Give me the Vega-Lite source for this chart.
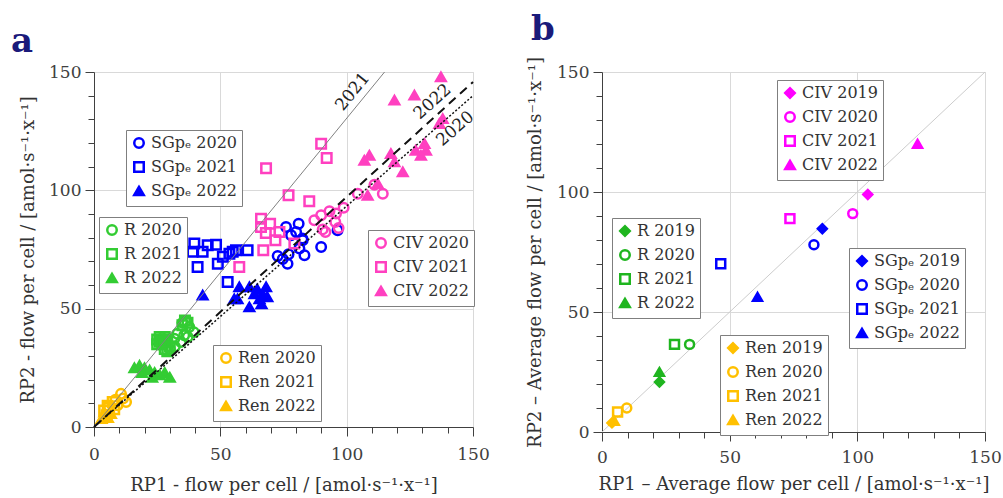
{
  "$schema": "https://vega.github.io/schema/vega-lite/v6.json",
  "padding": {"left": 10, "top": 12, "right": 5, "bottom": 0},
  "spacing": 36,
  "config": {
    "font": "DejaVu Serif",
    "view": {"stroke": "#d9d9d9"},
    "axis": {"domainColor": "#404040", "tickColor": "#404040", "labelFont": "DejaVu Serif", "labelFontSize": 17, "labelColor": "#404040", "titleFont": "DejaVu Serif", "titleFontSize": 18, "titleFontWeight": "normal", "titleColor": "#333333", "gridColor": "#d9d9d9", "labelOverlap": false, "labelFlush": false, "labelBound": false},
    "legend": {"title": null, "orient": "none", "fillColor": "white", "strokeColor": "#7f7f7f", "padding": 5, "labelFont": "DejaVu Serif", "labelFontSize": 16, "labelColor": "#333333", "symbolSize": 90, "symbolStrokeWidth": 2.5, "rowPadding": 4},
    "title": {"font": "DejaVu Serif", "fontSize": 34, "fontWeight": "bold", "color": "#1a1a7a", "anchor": "start", "frame": "group"}
  },
  "hconcat": [
    {
      "width": 379,
      "height": 355,
      "title": {"text": "a", "dx": -83, "offset": 4},
      "encoding": {
        "x": {"field": "x", "type": "quantitative", "scale": {"domain": [0, 150], "nice": false},
          "axis": {"title": "RP1 - flow per cell / [amol·s⁻¹·x⁻¹]", "values": [0,10,20,30,40,50,60,70,80,90,100,110,120,130,140,150],
            "labelExpr": "datum.value % 50 === 0 ? datum.label : ''", "labelPadding": 10, "titlePadding": 14,
            "tickSize": {"condition": {"test": "datum.value % 50 === 0", "value": 9}, "value": 6},
            "gridOpacity": {"condition": {"test": "datum.value % 50 === 0 && datum.value > 0", "value": 1}, "value": 0}}},
        "y": {"field": "y", "type": "quantitative", "scale": {"domain": [0, 150], "nice": false},
          "axis": {"title": "RP2 - flow per cell / [amol·s⁻¹·x⁻¹]", "values": [0,10,20,30,40,50,60,70,80,90,100,110,120,130,140,150],
            "labelExpr": "datum.value % 50 === 0 ? datum.label : ''", "labelPadding": 4, "titlePadding": 11,
            "tickSize": {"condition": {"test": "datum.value % 50 === 0", "value": 9}, "value": 6},
            "gridOpacity": {"condition": {"test": "datum.value % 50 === 0 && datum.value > 0", "value": 1}, "value": 0}}}
      },
      "layer": [
        {
          "data": {"values": [
            {"s": "SGpₑ 2020", "x": 72.7, "y": 72.3}, {"s": "SGpₑ 2020", "x": 74.7, "y": 71}, {"s": "SGpₑ 2020", "x": 76.6, "y": 69},
            {"s": "SGpₑ 2020", "x": 76, "y": 84.5}, {"s": "SGpₑ 2020", "x": 81, "y": 85.9}, {"s": "SGpₑ 2020", "x": 80, "y": 82.4},
            {"s": "SGpₑ 2020", "x": 82.6, "y": 78.9}, {"s": "SGpₑ 2020", "x": 81.3, "y": 75.4}, {"s": "SGpₑ 2020", "x": 83.3, "y": 72.6},
            {"s": "SGpₑ 2020", "x": 89.9, "y": 76.1}, {"s": "SGpₑ 2020", "x": 96.4, "y": 83.1}, {"s": "SGpₑ 2020", "x": 78, "y": 81},
            {"s": "SGpₑ 2020", "x": 77, "y": 73}, {"s": "SGpₑ 2020", "x": 82.5, "y": 79.6},
            {"s": "SGpₑ 2021", "x": 39.7, "y": 77.5}, {"s": "SGpₑ 2021", "x": 39, "y": 74}, {"s": "SGpₑ 2021", "x": 45, "y": 76.8},
            {"s": "SGpₑ 2021", "x": 48.3, "y": 77}, {"s": "SGpₑ 2021", "x": 43, "y": 74}, {"s": "SGpₑ 2021", "x": 41, "y": 67.6},
            {"s": "SGpₑ 2021", "x": 49, "y": 69}, {"s": "SGpₑ 2021", "x": 51, "y": 71.9}, {"s": "SGpₑ 2021", "x": 53.6, "y": 73.2},
            {"s": "SGpₑ 2021", "x": 56.2, "y": 74.7}, {"s": "SGpₑ 2021", "x": 60.8, "y": 74.7}, {"s": "SGpₑ 2021", "x": 52.9, "y": 61.3},
            {"s": "SGpₑ 2021", "x": 54.9, "y": 74},
            {"s": "SGpₑ 2022", "x": 43, "y": 55.7}, {"s": "SGpₑ 2022", "x": 57.5, "y": 59.2}, {"s": "SGpₑ 2022", "x": 61.5, "y": 59.2},
            {"s": "SGpₑ 2022", "x": 64.6, "y": 58.3}, {"s": "SGpₑ 2022", "x": 68.1, "y": 59.2}, {"s": "SGpₑ 2022", "x": 55.5, "y": 54.1},
            {"s": "SGpₑ 2022", "x": 63.5, "y": 56.2}, {"s": "SGpₑ 2022", "x": 66.7, "y": 56.2}, {"s": "SGpₑ 2022", "x": 61.5, "y": 50.7},
            {"s": "SGpₑ 2022", "x": 66.3, "y": 52}, {"s": "SGpₑ 2022", "x": 68.6, "y": 55}, {"s": "SGpₑ 2022", "x": 56.8, "y": 54.1},
            {"s": "SGpₑ 2022", "x": 65.5, "y": 54.1}
          ]},
          "mark": {"type": "point", "opacity": 1, "strokeWidth": 2.5, "size": 90},
          "encoding": {
            "shape": {"field": "s", "type": "nominal", "scale": {"range": ["circle", "square", "triangle-up"]}, "legend": {"legendX": 32, "legendY": 58}},
            "stroke": {"field": "s", "type": "nominal", "scale": {"range": ["#0000ff", "#0000ff", "#0000ff"]}, "legend": {"legendX": 32, "legendY": 58}},
            "fill": {"field": "s", "type": "nominal", "scale": {"range": ["transparent", "transparent", "#0000ff"]}, "legend": {"legendX": 32, "legendY": 58}}
          }
        },
        {
          "data": {"values": [
            {"s": "R 2020", "x": 35, "y": 44}, {"s": "R 2020", "x": 37.7, "y": 42.3}, {"s": "R 2020", "x": 33, "y": 39.4},
            {"s": "R 2020", "x": 35.7, "y": 38.8}, {"s": "R 2020", "x": 31.8, "y": 37.3}, {"s": "R 2020", "x": 34.4, "y": 35.9},
            {"s": "R 2020", "x": 37.1, "y": 38}, {"s": "R 2020", "x": 39.5, "y": 40}, {"s": "R 2020", "x": 32, "y": 34},
            {"s": "R 2020", "x": 30, "y": 33},
            {"s": "R 2021", "x": 25, "y": 37}, {"s": "R 2021", "x": 26, "y": 38}, {"s": "R 2021", "x": 27, "y": 37},
            {"s": "R 2021", "x": 28, "y": 38}, {"s": "R 2021", "x": 26, "y": 36}, {"s": "R 2021", "x": 27, "y": 35},
            {"s": "R 2021", "x": 28, "y": 36}, {"s": "R 2021", "x": 25, "y": 35}, {"s": "R 2021", "x": 29, "y": 37},
            {"s": "R 2021", "x": 28, "y": 33}, {"s": "R 2021", "x": 30, "y": 34}, {"s": "R 2021", "x": 29, "y": 32},
            {"s": "R 2021", "x": 35, "y": 43}, {"s": "R 2021", "x": 36, "y": 45}, {"s": "R 2021", "x": 37, "y": 44},
            {"s": "R 2022", "x": 16, "y": 25}, {"s": "R 2022", "x": 18, "y": 26}, {"s": "R 2022", "x": 20, "y": 25},
            {"s": "R 2022", "x": 22, "y": 24}, {"s": "R 2022", "x": 24, "y": 23}, {"s": "R 2022", "x": 26, "y": 22},
            {"s": "R 2022", "x": 28, "y": 23}, {"s": "R 2022", "x": 30, "y": 21}, {"s": "R 2022", "x": 19, "y": 23},
            {"s": "R 2022", "x": 23, "y": 21}
          ]},
          "mark": {"type": "point", "opacity": 1, "strokeWidth": 2.5, "size": 90},
          "encoding": {
            "shape": {"field": "s", "type": "nominal", "scale": {"range": ["circle", "square", "triangle-up"]}, "legend": {"legendX": 5, "legendY": 145}},
            "stroke": {"field": "s", "type": "nominal", "scale": {"range": ["#33cc33", "#33cc33", "#33cc33"]}, "legend": {"legendX": 5, "legendY": 145}},
            "fill": {"field": "s", "type": "nominal", "scale": {"range": ["transparent", "transparent", "#33cc33"]}, "legend": {"legendX": 5, "legendY": 145}}
          }
        },
        {
          "data": {"values": [
            {"s": "CIV 2020", "x": 87.2, "y": 87.4}, {"s": "CIV 2020", "x": 89.9, "y": 89.5}, {"s": "CIV 2020", "x": 93.2, "y": 91.2},
            {"s": "CIV 2020", "x": 95.5, "y": 86.6}, {"s": "CIV 2020", "x": 96.8, "y": 84.1}, {"s": "CIV 2020", "x": 91.6, "y": 82.4},
            {"s": "CIV 2020", "x": 98.8, "y": 92.6}, {"s": "CIV 2020", "x": 104.4, "y": 98.6}, {"s": "CIV 2020", "x": 111, "y": 102.4},
            {"s": "CIV 2020", "x": 114.3, "y": 98.6}, {"s": "CIV 2020", "x": 95.8, "y": 90.2}, {"s": "CIV 2020", "x": 90.5, "y": 83.5},
            {"s": "CIV 2021", "x": 68.1, "y": 109.3}, {"s": "CIV 2021", "x": 89.9, "y": 119.7}, {"s": "CIV 2021", "x": 92.1, "y": 113.7},
            {"s": "CIV 2021", "x": 77, "y": 97.9}, {"s": "CIV 2021", "x": 85.2, "y": 95.4}, {"s": "CIV 2021", "x": 66.1, "y": 88},
            {"s": "CIV 2021", "x": 66.1, "y": 84.5}, {"s": "CIV 2021", "x": 69.7, "y": 85.9}, {"s": "CIV 2021", "x": 73.4, "y": 82.4},
            {"s": "CIV 2021", "x": 71.8, "y": 78.9}, {"s": "CIV 2021", "x": 67, "y": 74.7}, {"s": "CIV 2021", "x": 79.3, "y": 77.5},
            {"s": "CIV 2021", "x": 57.5, "y": 67.6}, {"s": "CIV 2021", "x": 68, "y": 82},
            {"s": "CIV 2022", "x": 137.3, "y": 147.9}, {"s": "CIV 2022", "x": 118.9, "y": 138.1}, {"s": "CIV 2022", "x": 126.8, "y": 140.2},
            {"s": "CIV 2022", "x": 138, "y": 130.3}, {"s": "CIV 2022", "x": 136.7, "y": 128.2}, {"s": "CIV 2022", "x": 109, "y": 114.8},
            {"s": "CIV 2022", "x": 107, "y": 112.7}, {"s": "CIV 2022", "x": 117.5, "y": 115.5}, {"s": "CIV 2022", "x": 118.9, "y": 112},
            {"s": "CIV 2022", "x": 122.2, "y": 107.8}, {"s": "CIV 2022", "x": 127.3, "y": 116.9}, {"s": "CIV 2022", "x": 130.8, "y": 119.7},
            {"s": "CIV 2022", "x": 129.4, "y": 114.8}, {"s": "CIV 2022", "x": 131.4, "y": 116.9}, {"s": "CIV 2022", "x": 112.3, "y": 102.8},
            {"s": "CIV 2022", "x": 108.3, "y": 97.9}
          ]},
          "mark": {"type": "point", "opacity": 1, "strokeWidth": 2.5, "size": 90},
          "encoding": {
            "shape": {"field": "s", "type": "nominal", "scale": {"range": ["circle", "square", "triangle-up"]}, "legend": {"legendX": 274, "legendY": 158}},
            "stroke": {"field": "s", "type": "nominal", "scale": {"range": ["#ff40c0", "#ff40c0", "#ff40c0"]}, "legend": {"legendX": 274, "legendY": 158}},
            "fill": {"field": "s", "type": "nominal", "scale": {"range": ["transparent", "transparent", "#ff40c0"]}, "legend": {"legendX": 274, "legendY": 158}}
          }
        },
        {
          "data": {"values": [
            {"s": "Ren 2020", "x": 10.7, "y": 14}, {"s": "Ren 2020", "x": 12.7, "y": 10.6}, {"s": "Ren 2020", "x": 9.3, "y": 9.2},
            {"s": "Ren 2020", "x": 11.5, "y": 12}, {"s": "Ren 2020", "x": 8.5, "y": 11.5},
            {"s": "Ren 2021", "x": 5.4, "y": 9}, {"s": "Ren 2021", "x": 7.4, "y": 10.6}, {"s": "Ren 2021", "x": 4, "y": 7},
            {"s": "Ren 2021", "x": 6, "y": 8}, {"s": "Ren 2021", "x": 8, "y": 7.5}, {"s": "Ren 2021", "x": 5, "y": 5},
            {"s": "Ren 2022", "x": 4.1, "y": 6.3}, {"s": "Ren 2022", "x": 6.7, "y": 5.6}, {"s": "Ren 2022", "x": 3, "y": 3.5},
            {"s": "Ren 2022", "x": 5.5, "y": 4}
          ]},
          "mark": {"type": "point", "opacity": 1, "strokeWidth": 2.5, "size": 90},
          "encoding": {
            "shape": {"field": "s", "type": "nominal", "scale": {"range": ["circle", "square", "triangle-up"]}, "legend": {"legendX": 119, "legendY": 273}},
            "stroke": {"field": "s", "type": "nominal", "scale": {"range": ["#ffc000", "#ffc000", "#ffc000"]}, "legend": {"legendX": 119, "legendY": 273}},
            "fill": {"field": "s", "type": "nominal", "scale": {"range": ["transparent", "transparent", "#ffc000"]}, "legend": {"legendX": 119, "legendY": 273}}
          }
        },
        {
          "data": {"values": [{"x": 0, "y": 0}, {"x": 115, "y": 150}]},
          "mark": {"type": "line", "color": "#808080", "strokeWidth": 1},
          "encoding": {}
        },
        {
          "data": {"values": [{"x": 0, "y": 0}, {"x": 150, "y": 145.8}]},
          "mark": {"type": "line", "color": "#111111", "strokeWidth": 2, "strokeDash": [9, 6]},
          "encoding": {}
        },
        {
          "data": {"values": [{"x": 0, "y": 0}, {"x": 150, "y": 140}]},
          "mark": {"type": "line", "color": "#111111", "strokeWidth": 1.5, "strokeDash": [2, 2]},
          "encoding": {}
        },
        {
          "data": {"values": [{"x": 102.4, "y": 141.6, "t": "2021"}]},
          "mark": {"type": "text", "angle": -51, "fontSize": 17, "color": "#222222"},
          "encoding": {"text": {"field": "t"}}
        },
        {
          "data": {"values": [{"x": 134, "y": 137.4, "t": "2022"}]},
          "mark": {"type": "text", "angle": -42, "fontSize": 17, "color": "#222222"},
          "encoding": {"text": {"field": "t"}}
        },
        {
          "data": {"values": [{"x": 143, "y": 126, "t": "2020"}]},
          "mark": {"type": "text", "angle": -41, "fontSize": 17, "color": "#222222"},
          "encoding": {"text": {"field": "t"}}
        }
      ],
      "resolve": {"scale": {"shape": "independent", "stroke": "independent", "fill": "independent"}}
    },
    {
      "width": 383,
      "height": 360,
      "title": {"text": "b", "dx": -71, "offset": 10},
      "encoding": {
        "x": {"field": "x", "type": "quantitative", "scale": {"domain": [0, 150], "nice": false},
          "axis": {"title": "RP1 – Average flow per cell / [amol·s⁻¹·x⁻¹]", "values": [0,10,20,30,40,50,60,70,80,90,100,110,120,130,140,150],
            "labelExpr": "datum.value % 50 === 0 ? datum.label : ''", "labelPadding": 8, "titlePadding": 10,
            "tickSize": {"condition": {"test": "datum.value % 50 === 0", "value": 9}, "value": 6},
            "gridOpacity": {"condition": {"test": "datum.value % 50 === 0 && datum.value > 0", "value": 1}, "value": 0}}},
        "y": {"field": "y", "type": "quantitative", "scale": {"domain": [0, 150], "nice": false},
          "axis": {"title": "RP2 – Average flow per cell / [amol·s⁻¹·x⁻¹]", "values": [0,10,20,30,40,50,60,70,80,90,100,110,120,130,140,150],
            "labelExpr": "datum.value % 50 === 0 ? datum.label : ''", "labelPadding": 4, "titlePadding": 12,
            "tickSize": {"condition": {"test": "datum.value % 50 === 0", "value": 9}, "value": 6},
            "gridOpacity": {"condition": {"test": "datum.value % 50 === 0 && datum.value > 0", "value": 1}, "value": 0}}}
      },
      "layer": [
        {
          "data": {"values": [{"x": 0, "y": 0}, {"x": 150, "y": 150}]},
          "mark": {"type": "line", "color": "#cccccc", "strokeWidth": 1},
          "encoding": {}
        },
        {
          "data": {"values": [
            {"s": "CIV 2019", "x": 104.1, "y": 99}, {"s": "CIV 2020", "x": 98.2, "y": 91},
            {"s": "CIV 2021", "x": 73.6, "y": 88.9}, {"s": "CIV 2022", "x": 123.6, "y": 120.1}
          ]},
          "mark": {"type": "point", "opacity": 1, "strokeWidth": 2.5, "size": 80},
          "encoding": {
            "shape": {"field": "s", "type": "nominal", "scale": {"range": ["diamond", "circle", "square", "triangle-up"]}, "legend": {"legendX": 175, "legendY": 8}},
            "stroke": {"field": "s", "type": "nominal", "scale": {"range": ["#ff00ff", "#ff00ff", "#ff00ff", "#ff00ff"]}, "legend": {"legendX": 175, "legendY": 8}},
            "fill": {"field": "s", "type": "nominal", "scale": {"range": ["#ff00ff", "transparent", "transparent", "#ff00ff"]}, "legend": {"legendX": 175, "legendY": 8}}
          }
        },
        {
          "data": {"values": [
            {"s": "R 2019", "x": 22.5, "y": 20.8}, {"s": "R 2020", "x": 34.3, "y": 36.5},
            {"s": "R 2021", "x": 28.4, "y": 36.5}, {"s": "R 2022", "x": 22.5, "y": 25}
          ]},
          "mark": {"type": "point", "opacity": 1, "strokeWidth": 2.5, "size": 80},
          "encoding": {
            "shape": {"field": "s", "type": "nominal", "scale": {"range": ["diamond", "circle", "square", "triangle-up"]}, "legend": {"legendX": 10, "legendY": 146}},
            "stroke": {"field": "s", "type": "nominal", "scale": {"range": ["#1fb51f", "#1fb51f", "#1fb51f", "#1fb51f"]}, "legend": {"legendX": 10, "legendY": 146}},
            "fill": {"field": "s", "type": "nominal", "scale": {"range": ["#1fb51f", "transparent", "transparent", "#1fb51f"]}, "legend": {"legendX": 10, "legendY": 146}}
          }
        },
        {
          "data": {"values": [
            {"s": "SGpₑ 2019", "x": 86.3, "y": 84.7}, {"s": "SGpₑ 2020", "x": 83, "y": 78},
            {"s": "SGpₑ 2021", "x": 46.5, "y": 70.1}, {"s": "SGpₑ 2022", "x": 60.9, "y": 56.3}
          ]},
          "mark": {"type": "point", "opacity": 1, "strokeWidth": 2.5, "size": 80},
          "encoding": {
            "shape": {"field": "s", "type": "nominal", "scale": {"range": ["diamond", "circle", "square", "triangle-up"]}, "legend": {"legendX": 247, "legendY": 176}},
            "stroke": {"field": "s", "type": "nominal", "scale": {"range": ["#0000ff", "#0000ff", "#0000ff", "#0000ff"]}, "legend": {"legendX": 247, "legendY": 176}},
            "fill": {"field": "s", "type": "nominal", "scale": {"range": ["#0000ff", "transparent", "transparent", "#0000ff"]}, "legend": {"legendX": 247, "legendY": 176}}
          }
        },
        {
          "data": {"values": [
            {"s": "Ren 2019", "x": 3.9, "y": 3.8}, {"s": "Ren 2020", "x": 9.7, "y": 10},
            {"s": "Ren 2021", "x": 6.1, "y": 8.3}, {"s": "Ren 2022", "x": 4.8, "y": 4.6}
          ]},
          "mark": {"type": "point", "opacity": 1, "strokeWidth": 2.5, "size": 80},
          "encoding": {
            "shape": {"field": "s", "type": "nominal", "scale": {"range": ["diamond", "circle", "square", "triangle-up"]}, "legend": {"legendX": 118, "legendY": 263}},
            "stroke": {"field": "s", "type": "nominal", "scale": {"range": ["#ffc000", "#ffc000", "#ffc000", "#ffc000"]}, "legend": {"legendX": 118, "legendY": 263}},
            "fill": {"field": "s", "type": "nominal", "scale": {"range": ["#ffc000", "transparent", "transparent", "#ffc000"]}, "legend": {"legendX": 118, "legendY": 263}}
          }
        }
      ],
      "resolve": {"scale": {"shape": "independent", "stroke": "independent", "fill": "independent"}}
    }
  ]
}
